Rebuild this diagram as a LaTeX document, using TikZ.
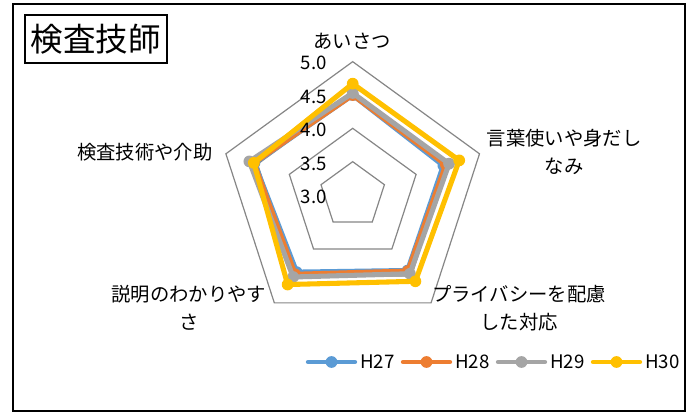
\documentclass[tikz,border=0pt]{standalone}
\usepackage{fontspec}
\setmainfont{Noto Sans CJK JP}
\definecolor{c27}{HTML}{5B9BD5}
\definecolor{c28}{HTML}{ED7D31}
\definecolor{c29}{HTML}{A5A5A5}
\definecolor{c30}{HTML}{FFC000}
\definecolor{gridgray}{HTML}{868686}
\begin{document}
\begin{tikzpicture}[x=0.75pt,y=-0.75pt,
  framebox/.style={draw=black,line width=0.8pt},
  gridline/.style={draw=gridgray,line width=0.9pt,line join=miter},
  series/.style={line width=3.8pt,line join=round,line cap=round},
  lab/.style={font=\fontsize{14.5}{21}\selectfont,align=center,inner sep=0pt},
  ticklab/.style={font=\fontsize{14}{16}\selectfont,anchor=east,inner sep=0pt},
  legtext/.style={font=\fontsize{14}{16}\selectfont,anchor=west,inner sep=0pt},
  legline/.style={line width=3.2pt,line cap=round}]
\useasboundingbox (0,0) rectangle (694,414);
\fill[white] (0,0) rectangle (694,414);
\draw[framebox] (13,4) rectangle (685,411);
\node[framebox,minimum width=106.5pt,minimum height=36pt,inner sep=0pt,
  font=\fontsize{24.4}{26}\selectfont] (title) at (96,39) {検査技師};
\coordinate (c) at (352.7,195);
% grid pentagons
\foreach \r in {33.333,66.667,100,133.333}
  \draw[gridline,shift={(c)}] (-90:\r) -- (-18:\r) -- (54:\r) -- (126:\r) -- (198:\r) -- cycle;
% data series
\foreach \nm/\col/\va/\vb/\vc/\vd/\ve in {
  27/c27/4.50/4.43/4.40/4.43/4.55,
  28/c28/4.50/4.47/4.41/4.47/4.56,
  29/c29/4.53/4.52/4.46/4.52/4.63,
  30/c30/4.67/4.68/4.60/4.66/4.56}{
  \begin{scope}[shift={(c)}]
    \coordinate (s\nm-1) at (-90:{(\va-3)*66.667});
    \coordinate (s\nm-2) at (-18:{(\vb-3)*66.667});
    \coordinate (s\nm-3) at (54:{(\vc-3)*66.667});
    \coordinate (s\nm-4) at (126:{(\vd-3)*66.667});
    \coordinate (s\nm-5) at (198:{(\ve-3)*66.667});
  \end{scope}
  \draw[series,\col] (s\nm-1) -- (s\nm-2) -- (s\nm-3) -- (s\nm-4) -- (s\nm-5) -- cycle;
  \foreach \k in {1,...,5} \fill[\col] (s\nm-\k) circle[radius=4.4pt];
}
% scale labels
\node[ticklab] (t50) at (327,63) {5.0};
\node[ticklab] (t45) at (327,96.7) {4.5};
\node[ticklab] (t40) at (327,130) {4.0};
\node[ticklab] (t35) at (327,164) {3.5};
\node[ticklab] (t30) at (327,196.7) {3.0};
% axis labels
\node[lab] (ax1) at (352,41) {あいさつ};
\node[lab] (ax2) at (564,152) {言葉使いや身だし\\なみ};
\node[lab] (ax3) at (519,308) {プライバシーを配慮\\した対応};
\node[lab] (ax4) at (189,308) {説明のわかりやす\\さ};
\node[lab] (ax5) at (145,152) {検査技術や介助};
% legend
\foreach \nm/\col/\xa in {27/c27/308,28/c28/403,29/c29/498,30/c30/593}{
  \coordinate (l\nm a) at (\xa,362);
  \coordinate (l\nm b) at (\xa+47,362);
  \coordinate (l\nm m) at (\xa+23.5,362);
  \draw[legline,\col] (l\nm a) -- (l\nm b);
  \fill[\col] (l\nm m) circle[radius=4.4pt];
  \node[legtext] (n\nm) at (\xa+52,362) {H\nm};
}
\end{tikzpicture}
\end{document}
